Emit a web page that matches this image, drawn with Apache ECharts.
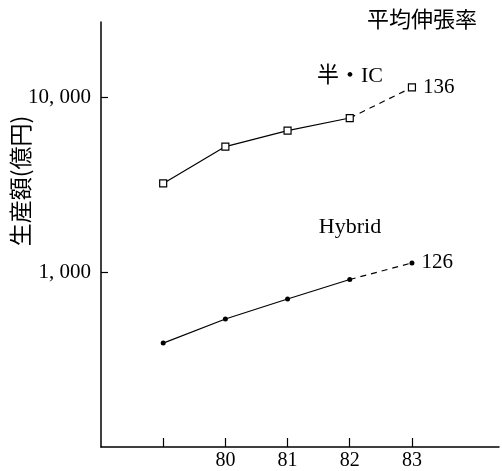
<!DOCTYPE html>
<html>
<head>
<meta charset="utf-8">
<script src="https://cdn.jsdelivr.net/npm/echarts@6/dist/echarts.min.js"></script>
<style>html,body{margin:0;padding:0;background:#fff}#c{width:502px;height:471px}</style>
</head>
<body>
<div id="c"></div>
<script>
const years = [79, 80, 81, 82, 83];
const xTickLabels = ['80', '81', '82', '83'];
const icValues = [3220, 5230, 6450, 7620, 11400];
const hybridValues = [393, 540, 703, 908, 1130];
const yTicks = [1000, 10000];
const yTickLabels = { 1000: '1, 000', 10000: '10, 000' };
const icName = '半・IC';
const hybridName = 'Hybrid';
const icRate = '136';
const hybridRate = '126';
const yTitle = '生産額(億円)';
const rateTitle = '平均伸張率';

const serif = '"Liberation Serif", "Noto Sans CJK JP", serif';
const sans = '"Noto Sans CJK JP", sans-serif';

function solidPart(vals) {
  return years.slice(0, 4).map((y, i) => [y, vals[i]]);
}
function dashedPart(vals, rate) {
  return [
    { value: [years[3], vals[3]], symbol: 'none' },
    { value: [years[4], vals[4]], label: { show: true, formatter: rate } }
  ];
}

const icSymbol = { symbol: 'rect', symbolSize: 7, itemStyle: { color: '#fff', borderColor: '#000', borderWidth: 1.2 } };
const hySymbol = { symbol: 'circle', symbolSize: 5, itemStyle: { color: '#000' } };
const labelStyle = { position: 'right', distance: 7, color: '#000', fontFamily: serif, fontSize: 21 };

const chart = echarts.init(document.getElementById('c'));
chart.setOption({
  animation: false,
  grid: { left: 101, right: 0, top: 22, bottom: 24 },
  xAxis: {
    type: 'value', min: 78, max: 84.4, interval: 1,
    axisLine: { lineStyle: { color: '#000', width: 1.5 } },
    axisTick: { inside: true, length: 9, customValues: years, lineStyle: { color: '#000', width: 1.2 } },
    splitLine: { show: false },
    axisLabel: {
      color: '#000', fontFamily: serif, fontSize: 20, margin: 4,
      formatter: v => xTickLabels.includes(String(Math.round(v))) ? String(Math.round(v)) : ''
    }
  },
  yAxis: {
    type: 'log', logBase: 10, min: 100, max: 27000,
    axisLine: { show: true, lineStyle: { color: '#000', width: 1.5 } },
    axisTick: { show: true, inside: true, length: 7, customValues: yTicks, lineStyle: { color: '#000', width: 1.2 } },
    splitLine: { show: false },
    axisLabel: {
      color: '#000', fontFamily: serif, fontSize: 21, margin: 10,
      formatter: v => yTickLabels[Math.round(v)] || ''
    }
  },
  graphic: [
    { type: 'text', left: 367, top: 8, style: { text: rateTitle, font: '22px ' + sans, fill: '#000' } },
    { type: 'text', x: 20, y: 181, rotation: Math.PI / 2, style: { text: yTitle, font: '23px ' + sans, fill: '#000', align: 'center', verticalAlign: 'middle' } },
    { type: 'text', x: 350, y: 76, style: { text: icName, font: '22px ' + serif, fill: '#000', align: 'center', verticalAlign: 'middle' } },
    { type: 'text', x: 350, y: 227, style: { text: hybridName, font: '22px ' + serif, fill: '#000', align: 'center', verticalAlign: 'middle' } }
  ],
  series: [
    Object.assign({ type: 'line', data: solidPart(icValues), lineStyle: { color: '#000', width: 1.2 } }, icSymbol),
    Object.assign({ type: 'line', data: dashedPart(icValues, icRate), lineStyle: { color: '#000', width: 1.2, type: [6, 5] }, label: labelStyle }, icSymbol),
    Object.assign({ type: 'line', data: solidPart(hybridValues), lineStyle: { color: '#000', width: 1.2 } }, hySymbol),
    Object.assign({ type: 'line', data: dashedPart(hybridValues, hybridRate), lineStyle: { color: '#000', width: 1.2, type: [6, 5] }, label: labelStyle }, hySymbol)
  ]
});
</script>
</body>
</html>
